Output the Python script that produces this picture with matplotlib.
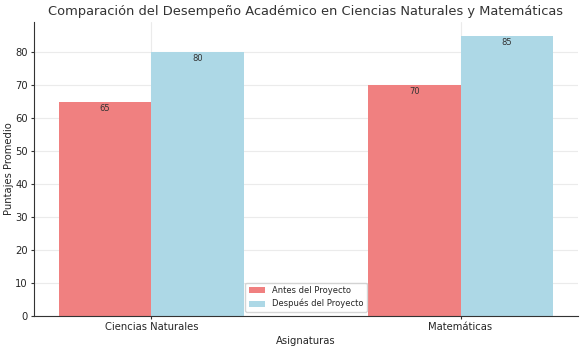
import matplotlib
matplotlib.use("Agg")
import matplotlib.pyplot as plt
import seaborn as sns
import numpy as np

categories = ["Ciencias Naturales", "Matemáticas"]
antes = [65, 70]
despues = [80, 85]
series_labels = ["Antes del Proyecto", "Después del Proyecto"]

sns.set_style("whitegrid")
plt.rcParams['font.family'] = ['DejaVu Sans']

fig, ax = plt.subplots(figsize=(5.84, 3.48), dpi=100)
x = np.arange(len(categories))
w = 0.3
b1 = ax.bar(x - w/2, antes, w, label=series_labels[0], color="lightcoral", linewidth=0)
b2 = ax.bar(x + w/2, despues, w, label=series_labels[1], color="lightblue", linewidth=0)

for bars in (b1, b2):
    for r in bars:
        ax.text(r.get_x() + r.get_width()/2, r.get_height() - 0.5, f"{int(r.get_height())}",
                ha="center", va="top", fontsize=6, color="#333333")

ax.set_xticks(x)
ax.set_xticklabels(categories, fontsize=7.2)
ax.tick_params(axis="y", labelsize=7.2)
ax.set_xlabel("Asignaturas", fontsize=7.2, labelpad=3)
ax.set_ylabel("Puntajes Promedio", fontsize=7.2, labelpad=1)
ax.set_title("Comparación del Desempeño Académico en Ciencias Naturales y Matemáticas", fontsize=9.35, color="#333333", pad=5)
ax.legend(loc="lower center", fontsize=6.0, frameon=True)
ax.grid(True, color="#ebebeb", linewidth=0.8)
for s in ["top", "right"]:
    ax.spines[s].set_visible(False)
for s in ["left", "bottom"]:
    ax.spines[s].set_color("#333333")
    ax.spines[s].set_linewidth(0.8)
ax.tick_params(axis="both", length=2.5, pad=2, color="#333333", left=True, bottom=True)

fig.subplots_adjust(left=34/584, right=578/584, bottom=1-316/348, top=1-22/348)
fig.savefig("out.png", dpi=100)
